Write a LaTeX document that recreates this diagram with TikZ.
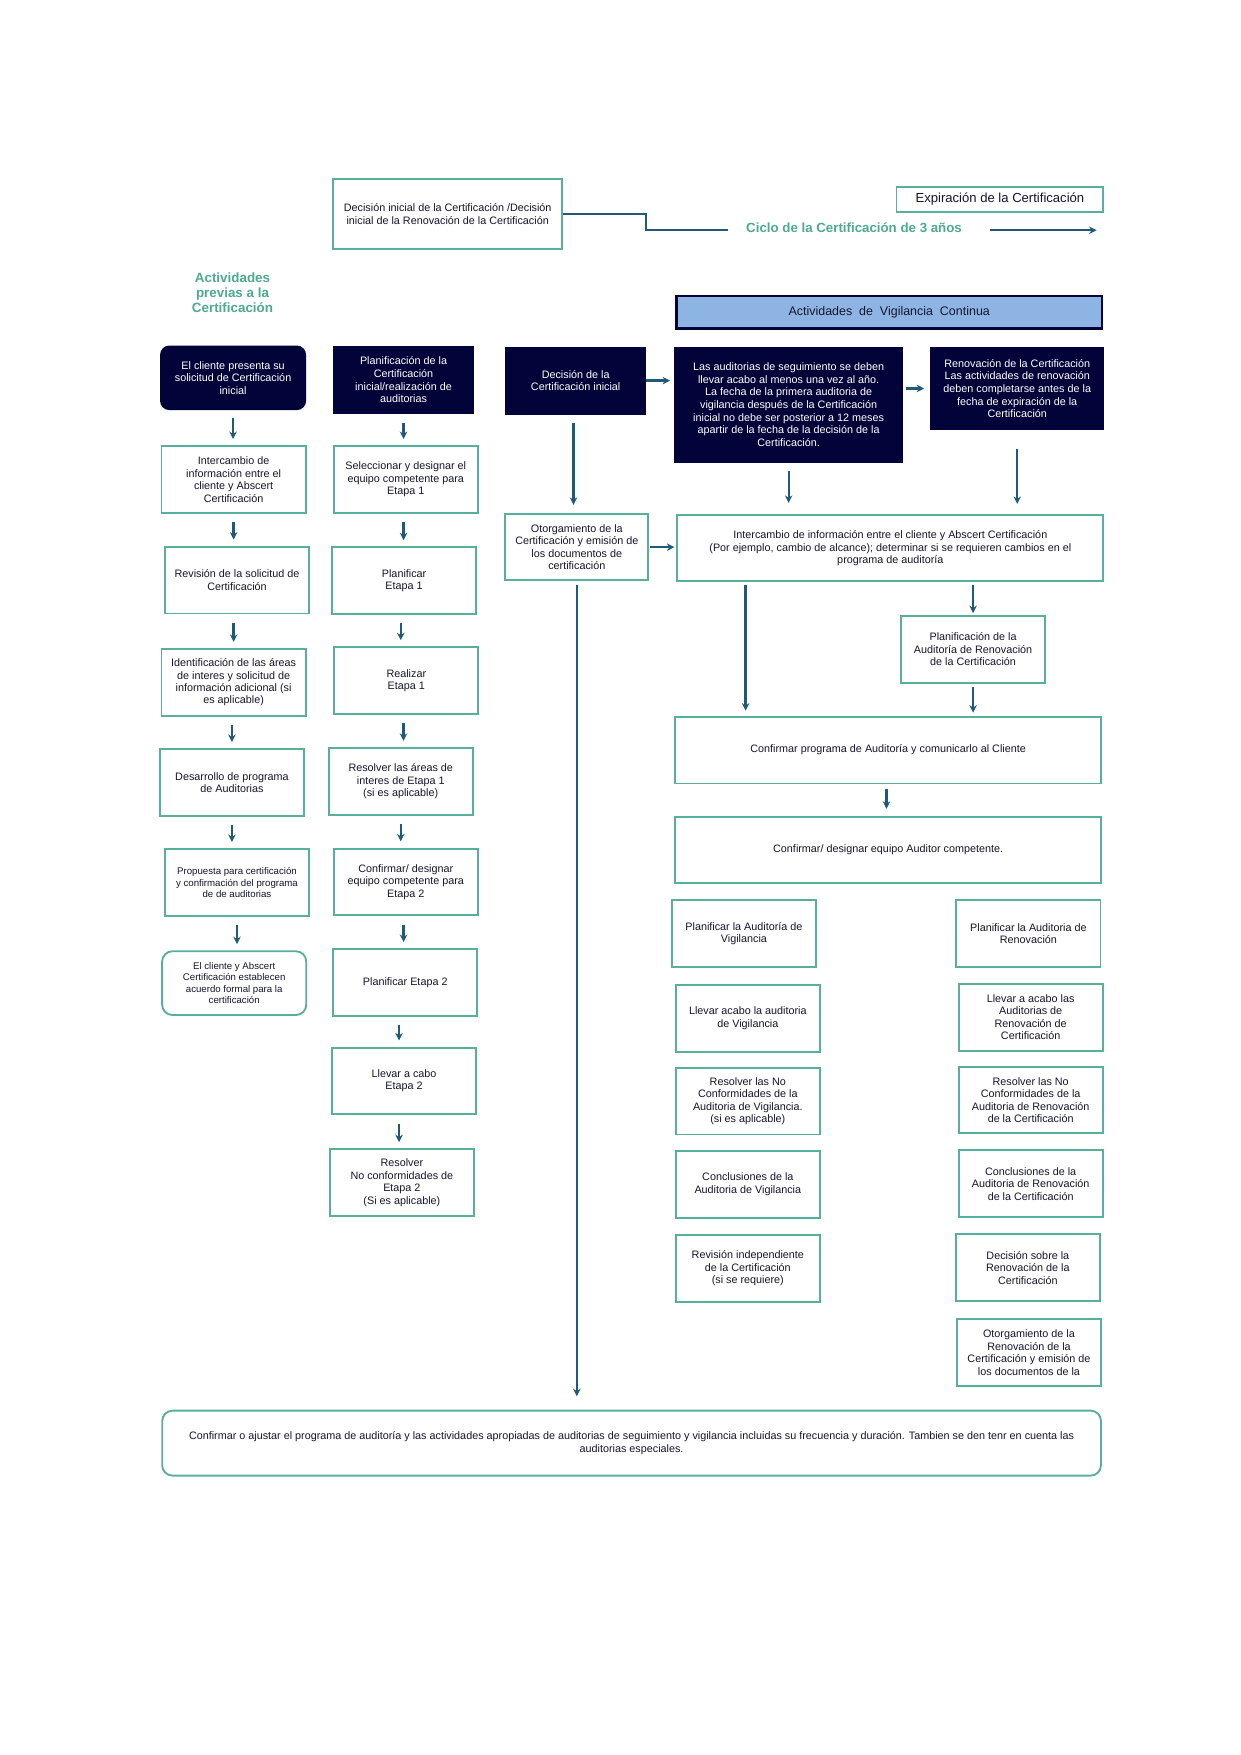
\documentclass[tikz,border=0pt]{standalone}
\usepackage{fontspec}
\setmainfont{Liberation Sans}
\usetikzlibrary{arrows.meta}
\definecolor{navy}{RGB}{2,3,56}
\definecolor{teal1}{RGB}{88,176,156}
\definecolor{head}{RGB}{76,170,145}
\definecolor{arrblue}{RGB}{31,90,120}
\definecolor{txt}{RGB}{22,22,48}
\definecolor{vigblue}{RGB}{141,180,226}

\begin{document}
\begin{tikzpicture}[x=0.01892cm,y=-0.01892cm,
    box/.style={rectangle,draw=teal1,line width=0.9pt,fill=white,text=txt,align=center,
                inner sep=1pt,minimum width=2.44cm,minimum height=1.13cm,
                font=\fontsize{5.2}{6}\selectfont},
    navybox/.style={box,draw=navy,fill=navy,text=white,font=\fontsize{5.2}{6.1}\selectfont},
    small/.style={font=\fontsize{4.65}{5.4}\selectfont}]
\useasboundingbox (0,0) rectangle (1110,1570);

% top
\node[box,minimum width=3.88cm,minimum height=1.19cm] (dec) at (400.5,191.5)
    {Decisión inicial de la Certificación /Decisión\\inicial de la Renovación de la Certificación};
\node[box,minimum width=3.5cm,minimum height=0.435cm,font=\fontsize{6.3}{7.5}\selectfont] (exp) at (894.5,178.5)
    {Expiración de la Certificación};
\node[text=head,font=\fontsize{6.4}{7.6}\selectfont\bfseries] (ciclo) at (764,204)
    {Ciclo de la Certificación de 3 años};
\node[text=head,align=center,font=\fontsize{6.45}{7.3}\selectfont\bfseries] (prev) at (208,262)
    {Actividades\\previas a la\\Certificación};
\node[box,draw=navy,line width=1.2pt,fill=vigblue,minimum width=7.21cm,minimum height=0.55cm,
      font=\fontsize{6}{7.2}\selectfont] (vig) at (795.5,279.5)
    {Actividades\ \ de\ \ Vigilancia\ \ Continua};
\coordinate (cy1) at (651,206);
\coordinate (cy2) at (886,206);
\coordinate (cy3) at (981,206);

% column 1
\node[navybox,rounded corners=4pt,minimum height=1.06cm] (a1) at (208.5,338)
    {El cliente presenta su\\solicitud de Certificación\\inicial};
\node[box] (a2) at (209,429) {Intercambio de\\información entre el\\cliente y Abscert\\Certificación};
\node[box] (a3) at (212,519) {Revisión de la solicitud de\\Certificación};
\node[box] (a4) at (209,610.5) {Identificación de las áreas\\de interes y solicitud de\\información adicional (si\\es aplicable)};
\node[box] (a5) at (207.5,700) {Desarrollo de programa\\de Auditorias};
\node[box,small] (a6) at (212,789.5) {Propuesta para certificación\\y confirmación del programa\\de de auditorias};
\node[box,small,rounded corners=5pt,minimum height=1.08cm] (a7) at (209.5,879.5)
    {El cliente y Abscert\\Certificación establecen\\acuerdo formal para la\\certificación};

% column 2
\node[navybox,minimum width=2.35cm] (b1) at (361,340)
    {Planificación de la\\Certificación\\inicial/realización de\\auditorias};
\node[box] (b2) at (363,429) {Seleccionar y designar el\\equipo competente para\\Etapa 1};
\node[box] (b3) at (361.5,519.5) {Planificar\\Etapa 1};
\node[box] (b4) at (363.5,609) {Realizar\\Etapa 1};
\node[box] (b5) at (358.5,699) {Resolver las áreas de\\interes de Etapa 1\\(si es aplicable)};
\node[box] (b6) at (363,789) {Confirmar/ designar\\equipo competente para\\Etapa 2};
\node[box] (b7) at (362.5,879) {Planificar Etapa 2};
\node[box] (b8) at (361.5,967) {Llevar a cabo\\Etapa 2};
\node[box] (b9) at (359.5,1058) {Resolver\\No conformidades de\\Etapa 2\\(Si es aplicable)};

% column 3
\node[navybox,minimum width=2.35cm,minimum height=1.12cm] (c1) at (515,340.5)
    {Decisión de la\\Certificación inicial};
\node[box,minimum width=2.42cm,minimum height=1.12cm] (c2) at (516,489.5)
    {Otorgamiento de la\\Certificación y emisión de\\los documentos de\\certificación};

% surveillance and renewal
\node[navybox,minimum width=3.84cm,minimum height=1.93cm] (d1) at (705.5,362)
    {Las auditorias de seguimiento se deben\\llevar acabo al menos una vez al año.\\La fecha de la primera auditoria de\\vigilancia después de la Certificación\\inicial no debe ser posterior a 12 meses\\apartir de la fecha de la decisión de la\\Certificación.};
\node[navybox,minimum width=2.91cm,minimum height=1.38cm] (d2) at (910,347.5)
    {Renovación de la Certificación\\Las actividades de renovación\\deben completarse antes de la\\fecha de expiración de la\\Certificación};
\node[box,minimum width=7.21cm,minimum height=1.12cm] (e1) at (796.5,490.5)
    {Intercambio de información entre el cliente y Abscert Certificación\\(Por ejemplo, cambio de alcance); determinar si se requieren cambios en el\\programa de auditoría};
\node[box] (e2) at (870.5,581) {Planificación de la\\Auditoría de Renovación\\de la Certificación};
\node[box,minimum width=7.21cm] (e3) at (794.5,671) {Confirmar programa de Auditoría y comunicarlo al Cliente};
\node[box,minimum width=7.21cm,minimum height=1.12cm] (e4) at (794.5,760.5) {Confirmar/ designar equipo Auditor competente.};

\node[box] (v1) at (665.5,835) {Planificar la Auditoría de\\Vigilancia};
\node[box] (v2) at (669,911) {Llevar acabo la auditoria\\de Vigilancia};
\node[box] (v3) at (669,985) {Resolver las No\\Conformidades de la\\Auditoria de Vigilancia.\\(si es aplicable)};
\node[box] (v4) at (669,1059.5) {Conclusiones de la\\Auditoria de Vigilancia};
\node[box] (v5) at (669,1134.5) {Revisión independiente\\de la Certificación\\(si se requiere)};

\node[box] (r1) at (920,835) {Planificar la Auditoria de\\Renovación};
\node[box] (r2) at (922,910) {Llevar a acabo las\\Auditorias de\\Renovación de\\Certificación};
\node[box] (r3) at (922,984) {Resolver las No\\Conformidades de la\\Auditoria de Renovación\\de la Certificación};
\node[box] (r4) at (922,1059) {Conclusiones de la\\Auditoria de Renovación\\de la Certificación};
\node[box] (r5) at (919.5,1134) {Decisión sobre la\\Renovación de la\\Certificación};
\node[box] (r6) at (920.5,1210) {Otorgamiento de la\\Renovación de la\\Certificación y emisión de\\los documentos de la};

\node[box,rounded corners=5pt,minimum width=15.89cm,minimum height=1.1cm] (bot) at (565,1291)
    {Confirmar o ajustar el programa de auditoría y las actividades apropiadas de auditorias de seguimiento y vigilancia incluidas su frecuencia y duración. Tambien se den tenr en cuenta las\\auditorias especiales.};

% connectors
\draw[arrblue,line width=1pt] (dec.east) -- ++(74,0) |- (cy1);

\begin{scope}[>={Stealth[length=3.6pt,width=3.6pt]},
              shorten <=4pt,shorten >=3pt,
              every edge/.style={draw=arrblue,line width=1.1pt}]
    \path [->] (cy2) edge[shorten <=0pt,shorten >=0pt] (cy3);

    \path [->] (a1.south) edge (a1.south |- a2.north);
    \path [->] (a2.south) edge (a2.south |- a3.north);
    \path [->] (a2.south |- a3.south) edge (a2.south |- a4.north);
    \path [->] (a5.north |- a4.south) edge (a5.north);
    \path [->] (a5.south) edge (a5.south |- a6.north);
    \path [->] (a6.south) edge (a6.south |- a7.north);

    \path [->] (b1.south) edge (b1.south |- b2.north);
    \path [->] (b1.south |- b2.south) edge (b1.south |- b3.north);
    \path [->] (b5.north |- b3.south) edge (b5.north |- b4.north);
    \path [->] (b1.south |- b4.south) edge (b1.south |- b5.north);
    \path [->] (b5.south) edge (b5.south |- b6.north);
    \path [->] (b1.south |- b6.south) edge (b1.south |- b7.north);
    \path [->] (b7.south -| 357,0) edge (b8.north -| 357,0);
    \path [->] (b8.south -| 357,0) edge (b9.north -| 357,0);

    \path [->] (c1.south -| 513,0) edge[shorten >=4pt] (c2.north -| 513,0);
    \path [->] (c1.east) edge[shorten <=0pt,shorten >=2pt] (c1.east -| d1.west);
    \path [->] (c2.east) edge[shorten <=0.5pt,shorten >=1pt] (c2.east -| e1.west);
    \path [->] (c2.south) edge[shorten <=2pt,shorten >=6.5pt] (c2.south |- bot.north);

    \path [->] (d1.east |- d2.west) edge[shorten <=1.5pt] (d2.west);
    \path [->] (d1.south) edge[shorten >=5.5pt] (d1.south |- e1.north);
    \path [->] (d2.south) edge[shorten <=9pt,shorten >=5pt] (d2.south |- e1.north);
    \path [->] (e2.north |- e1.south) edge[shorten <=1.5pt,shorten >=1pt] (e2.north);
    \path [->] (e1.south -| 667,0) edge[shorten <=1.5pt,shorten >=2.5pt] (e3.north -| 667,0);
    \path [->] (e2.south) edge[shorten <=1.5pt,shorten >=1.5pt] (e2.south |- e3.north);
    \path [->] (e3.south -| 793,0) edge[shorten <=2pt,shorten >=3.5pt] (e4.north -| 793,0);
\end{scope}
\end{tikzpicture}
\end{document}
